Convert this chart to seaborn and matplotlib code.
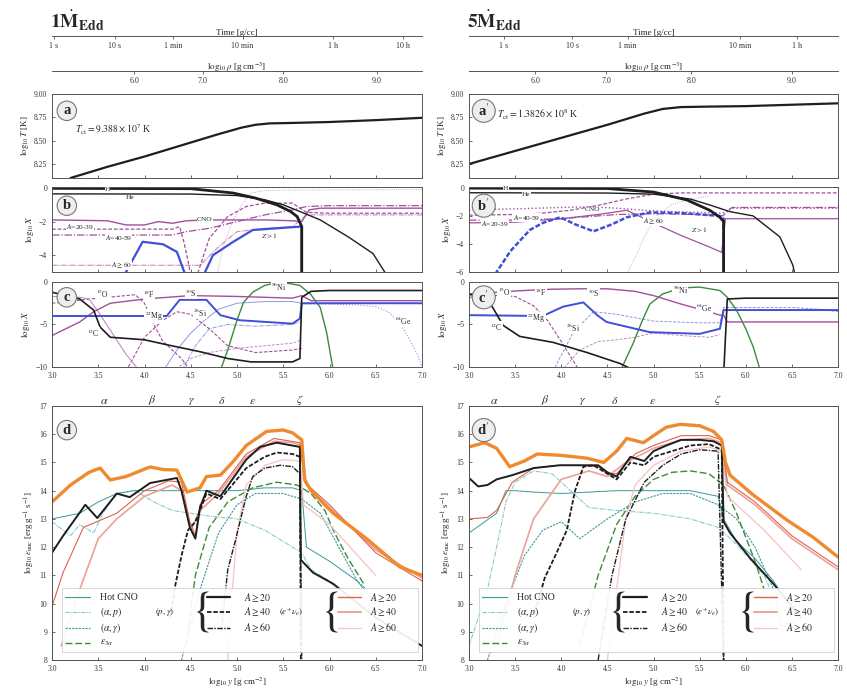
import numpy as np
import pandas as pd
import matplotlib
matplotlib.use("Agg")
import matplotlib.pyplot as plt
import seaborn as sns
from matplotlib.lines import Line2D
from matplotlib.patches import FancyBboxPatch

# ---------------- data ----------------
time_ticks_L = [3.02, 3.68, 4.31, 5.06, 6.04, 6.79]
time_labels_L = ["1 s", "10 s", "1 min", "10 min", "1 h", "10 h"]
time_ticks_R = [3.38, 4.12, 4.72, 5.94, 6.56]
time_labels_R = ["1 s", "10 s", "1 min", "10 min", "1 h"]
rho_ticks_L = [3.89, 4.63, 5.50, 6.51]
rho_ticks_R = [3.72, 4.49, 5.41, 6.50]
rho_labels = ["6.0", "7.0", "8.0", "9.0"]
greek_L = [3.57, 4.08, 4.51, 4.84, 5.17, 5.68]
greek_R = [3.27, 3.83, 4.23, 4.58, 4.99, 5.70]
greek_labels = [r"$\alpha$", r"$\beta$", r"$\gamma$", r"$\delta$", r"$\epsilon$", r"$\zeta$"]

# panel a
aL_x = [3.2, 3.6, 4.0, 4.4, 4.8, 5.05, 5.2, 5.35, 5.6, 6.0, 6.5, 7.0]
aL_T = [8.10, 8.22, 8.33, 8.45, 8.57, 8.64, 8.67, 8.685, 8.69, 8.70, 8.72, 8.745]
aR_x = [3.0, 3.5, 4.0, 4.5, 4.9, 5.1, 5.3, 5.6, 6.0, 6.5, 7.0]
aR_T = [8.25, 8.39, 8.53, 8.67, 8.79, 8.84, 8.86, 8.865, 8.87, 8.885, 8.90]

# panel b (left)
bL_H_x = [3.0, 4.5, 4.96, 5.2, 5.43, 5.58, 5.65, 5.70, 5.70]
bL_H_y = [-0.02, -0.04, -0.3, -0.6, -1.0, -1.4, -1.7, -2.3, -6.0]
bL_He_x = [3.0, 4.5, 5.0, 5.3, 5.5, 5.68, 5.9, 6.2, 6.47, 6.62]
bL_He_y = [-0.35, -0.36, -0.45, -0.7, -1.0, -1.4, -1.9, -2.9, -3.9, -5.2]
bL_CNO_x = [3.0, 3.6, 3.8, 4.0, 4.15, 4.3, 4.45, 4.7, 5.0, 5.3, 5.6, 5.7, 5.78, 5.9, 7.0]
bL_CNO_y = [-1.9, -1.95, -2.2, -2.2, -2.0, -2.1, -1.95, -1.9, -1.9, -1.9, -1.95, -2.0, -1.3, -1.2, -1.2]
bL_A20_x = [3.0, 4.3, 4.38, 4.43, 4.48, 4.52, 4.7, 4.9, 5.1, 5.3, 5.6, 5.75, 6.0, 7.0]
bL_A20_y = [-2.45, -2.45, -2.3, -3.3, -4.6, -6.0, -3.0, -1.7, -1.1, -0.9, -0.9, -1.45, -1.5, -1.5]
bL_A40_x = [3.0, 4.3, 4.45, 4.7, 5.0, 5.3, 5.6, 5.75, 6.0, 7.0]
bL_A40_y = [-2.8, -2.8, -2.6, -2.4, -2.0, -1.6, -1.3, -1.1, -1.05, -1.05]
bL_A60_x = [3.0, 4.3, 4.6, 4.8, 5.0, 5.3, 5.6, 5.75, 7.0]
bL_A60_y = [-4.6, -4.6, -4.6, -3.5, -2.6, -2.4, -2.3, -1.6, -1.6]
bL_Z_x = [3.7, 3.98, 4.2, 4.35, 4.43, 4.5, 4.57, 4.74, 4.96, 5.17, 5.68, 5.70, 5.70]
bL_Z_y = [-6.0, -3.2, -3.35, -3.8, -5.0, -6.0, -6.0, -4.0, -3.2, -2.5, -2.3, -2.3, -6.0]
bL_thin_x = [4.75, 4.85, 4.95, 5.05, 5.15, 5.3, 5.6, 7.0]
bL_thin_y = [-6.0, -3.5, -2.0, -1.0, -0.3, -0.15, -0.12, -0.1]

# panel b (right)
bR_H_x = [3.0, 4.5, 5.0, 5.36, 5.61, 5.72, 5.76, 5.76]
bR_H_y = [-0.02, -0.05, -0.3, -0.86, -1.6, -2.1, -2.4, -7.0]
bR_He_x = [3.0, 4.5, 5.0, 5.4, 5.6, 5.83, 6.08, 6.37, 6.51, 6.56]
bR_He_y = [-0.35, -0.37, -0.45, -0.8, -1.2, -1.7, -2.0, -3.5, -5.5, -7.0]
bR_CNO_x = [3.0, 3.5, 4.0, 4.3, 4.6, 4.9, 5.2, 5.5, 5.75, 5.85, 7.0]
bR_CNO_y = [-1.55, -1.5, -1.4, -1.35, -1.45, -1.6, -1.7, -1.75, -1.8, -1.45, -1.45]
bR_A20_x = [3.0, 3.5, 3.8, 4.1, 4.4, 4.7, 5.0, 5.3, 7.0]
bR_A20_y = [-1.95, -1.9, -1.8, -1.6, -1.25, -0.8, -0.45, -0.36, -0.36]
bR_A40_x = [3.0, 3.5, 4.0, 4.4, 4.6, 5.0, 5.5, 5.75, 5.85, 7.0]
bR_A40_y = [-2.3, -2.3, -2.2, -2.0, -1.9, -1.85, -1.9, -2.0, -1.4, -1.4]
bR_A60_x = [3.0, 3.5, 4.0, 4.4, 4.71, 5.0, 5.3, 5.6, 5.74, 5.78, 5.9, 7.0]
bR_A60_y = [-2.5, -2.45, -2.2, -1.9, -1.6, -2.5, -3.4, -4.2, -4.6, -2.2, -2.2, -2.2]
bR_Z_x = [3.2, 3.45, 3.66, 3.8, 3.99, 4.15, 4.35, 4.55, 4.71, 4.96, 5.3, 5.72, 5.76, 5.76]
bR_Z_y = [-7.0, -4.5, -3.0, -2.5, -2.1, -2.6, -3.1, -2.6, -2.1, -1.75, -1.8, -2.0, -2.2, -7.0]
bR_thin_x = [4.64, 4.8, 4.9, 5.03, 5.2, 5.4, 5.6]
bR_thin_y = [-7.0, -5.0, -3.5, -2.0, -1.2, -0.8, -0.6]

# panel c (left)
cL_C_x = [3.0, 3.3, 3.45, 3.52, 3.63, 4.0, 4.25, 4.6, 4.9, 5.15, 5.6, 5.68, 5.70, 5.8, 6.0, 7.0]
cL_C_y = [-1.2, -2.0, -3.3, -5.3, -6.5, -6.8, -7.4, -8.2, -9.0, -9.4, -9.4, -9.0, -1.8, -1.1, -1.0, -1.0]
cL_O_x = [3.0, 4.24, 4.38, 4.67, 4.82, 5.03, 5.6, 5.68, 5.70, 5.8, 7.0]
cL_O_y = [-4.0, -4.0, -2.1, -2.1, -3.9, -4.5, -4.9, -4.3, -2.5, -2.5, -2.5]
cL_P_x = [3.0, 3.3, 3.45, 3.63, 4.0, 4.5, 5.0, 5.6, 5.7, 5.8, 7.0]
cL_P_y = [-6.3, -4.7, -3.5, -2.5, -2.0, -1.6, -1.7, -1.9, -1.6, -2.2, -2.2]
cL_O15_x = [3.0, 3.3, 3.4, 3.5, 3.65, 3.8, 3.95]
cL_O15_y = [-1.7, -1.8, -2.0, -3.5, -6.0, -8.5, -10.5]
cL_F18_x = [3.0, 3.5, 3.9, 4.0, 4.1, 4.2, 4.4, 4.5]
cL_F18_y = [-2.5, -1.9, -1.5, -2.5, -5.0, -7.0, -9.0, -10.5]
cL_Na_x = [3.8, 4.0, 4.2, 4.35, 4.5, 4.7, 4.9, 5.2, 5.6, 5.7]
cL_Na_y = [-10.5, -6.5, -4.5, -3.5, -3.8, -5.5, -7.5, -8.3, -8.0, -7.8]
cL_Ni_x = [4.8, 4.9, 5.0, 5.07, 5.17, 5.3, 5.4, 5.55, 5.68, 5.8, 5.9, 5.97, 6.05]
cL_Ni_y = [-11.0, -8.0, -4.5, -2.4, -1.2, -0.4, -0.15, -0.15, -0.4, -1.5, -3.0, -6.0, -11.0]
cL_Ge_x = [5.7, 6.0, 6.3, 6.5, 6.65, 6.8, 6.95, 7.0]
cL_Ge_y = [-2.6, -2.6, -2.7, -2.9, -3.6, -5.5, -8.5, -10.0]
cL_B2_x = [4.2, 4.35, 4.5, 4.65, 4.8, 5.0, 5.3, 5.6, 5.7]
cL_B2_y = [-10.5, -8.0, -6.0, -4.5, -3.2, -2.5, -2.3, -2.3, -2.5]
cL_B3_x = [4.4, 4.55, 4.7, 4.9, 5.2, 5.6, 5.7]
cL_B3_y = [-10.5, -7.5, -5.5, -5.0, -5.2, -5.0, -4.6]
cL_P2_x = [4.3, 4.5, 4.7, 5.0, 5.3, 5.6, 5.7]
cL_P2_y = [-10.5, -9.0, -8.3, -7.8, -7.5, -7.2, -6.8]

# panel c (right)
cR_C_x = [3.0, 3.1, 3.23, 3.37, 3.55, 3.91, 4.28, 4.64, 4.9, 5.72, 5.76, 5.8, 6.0, 7.0]
cR_C_y = [-1.4, -1.8, -2.5, -5.1, -6.4, -7.1, -8.3, -9.6, -11.0, -11.0, -11.0, -2.0, -1.9, -1.9]
cR_O_x = [3.0, 3.8, 4.02, 4.24, 4.39, 4.49, 4.96, 5.5, 5.72, 5.76, 5.8, 7.0]
cR_O_y = [-3.9, -4.0, -2.9, -2.4, -3.9, -4.7, -5.9, -6.1, -5.5, -3.3, -3.3, -3.3]
cR_P_x = [3.0, 3.3, 3.6, 3.9, 4.2, 4.5, 4.8, 5.0, 5.3, 5.6, 5.72, 5.76, 5.8, 7.0]
cR_P_y = [-1.4, -1.2, -1.0, -0.85, -0.8, -0.8, -1.1, -1.6, -2.6, -3.5, -3.9, -3.9, -4.7, -4.7]
cR_F18_x = [3.0, 3.3, 3.5, 3.7, 3.85, 4.0, 4.2]
cR_F18_y = [-1.8, -1.6, -1.7, -2.8, -4.5, -7.0, -10.5]
cR_Ni_x = [4.64, 4.78, 4.88, 4.96, 5.1, 5.3, 5.5, 5.72, 5.8, 5.9, 6.0, 6.08, 6.16]
cR_Ni_y = [-10.5, -7.2, -4.5, -2.6, -1.4, -0.7, -0.6, -1.0, -1.8, -3.3, -5.5, -7.6, -10.5]
cR_B2_x = [3.91, 4.13, 4.35, 4.6, 5.0, 5.5, 5.72, 5.76, 6.5, 6.8, 7.0]
cR_B2_y = [-10.5, -5.9, -3.5, -3.8, -4.6, -4.8, -4.8, -3.0, -3.0, -3.2, -3.5]
cR_P2_x = [4.0, 4.2, 4.4, 4.6, 4.8, 5.0, 5.3, 5.6, 5.72]
cR_P2_y = [-10.5, -8.0, -7.0, -6.8, -6.5, -6.0, -6.3, -6.5, -6.2]

# panel d (left)
dL_tot_x = [3.0, 3.2, 3.4, 3.52, 3.63, 3.8, 4.06, 4.2, 4.35, 4.46, 4.6, 4.67, 4.82, 4.95, 5.1, 5.32,
            5.5, 5.6, 5.7, 5.73, 5.8, 6.04, 6.4, 6.76, 7.0]
dL_tot_y = [13.6, 14.2, 14.65, 14.8, 14.38, 14.5, 14.84, 14.75, 14.73, 13.95, 14.1, 14.5, 14.55, 15.0,
            15.6, 16.1, 16.15, 16.05, 15.8, 14.4, 14.0, 13.2, 12.3, 11.3, 11.0]
dL_pg20_x = [3.0, 3.12, 3.36, 3.49, 3.7, 3.84, 4.06, 4.35, 4.4, 4.49, 4.55, 4.6, 4.67, 4.82, 5.1, 5.25,
             5.43, 5.68, 5.69, 5.82, 6.04, 6.5, 7.0]
dL_pg20_y = [11.8, 12.4, 13.5, 13.03, 13.9, 13.77, 14.27, 14.45, 14.0, 12.7, 12.3, 13.4, 14.0, 13.8, 15.1,
             15.55, 15.7, 15.55, 11.55, 11.1, 10.7, 9.5, 8.5]
dL_pg40_x = [4.28, 4.33, 4.4, 4.47, 4.55, 4.6, 4.67, 4.82, 5.1, 5.3, 5.43, 5.6, 5.68, 5.69]
dL_pg40_y = [9.5, 10.6, 11.7, 12.6, 12.9, 13.3, 13.9, 13.7, 14.8, 15.2, 15.35, 15.3, 15.2, 8.0]
dL_pg60_x = [4.83, 4.9, 4.98, 5.1, 5.17, 5.3, 5.47, 5.6, 5.68, 5.70]
dL_pg60_y = [9.0, 11.2, 12.2, 13.8, 14.5, 14.8, 14.9, 14.85, 14.6, 8.0]
dL_ep20_x = [3.0, 3.12, 3.34, 3.52, 3.7, 4.0, 4.26, 4.4, 4.49, 4.55, 4.6, 4.8, 5.1, 5.4, 5.68, 5.73,
             6.0, 6.5, 7.0]
dL_ep20_y = [9.9, 11.1, 12.7, 12.95, 13.2, 14.0, 14.35, 14.3, 12.9, 12.4, 13.5, 14.0, 15.3, 15.85,
             15.7, 14.3, 13.5, 11.8, 10.8]
dL_ep40_x = [3.1, 3.3, 3.5, 3.7, 4.0, 4.3, 4.4, 4.5, 4.6, 4.8, 5.1, 5.4, 5.6, 5.7, 5.75, 6.0, 6.5, 7.0]
dL_ep40_y = [8.5, 10.5, 12.3, 13.0, 13.8, 14.2, 14.0, 12.6, 13.3, 13.9, 15.2, 15.75, 15.7, 15.6, 14.2,
             13.4, 11.9, 10.9]
dL_ep60_x = [4.9, 4.95, 5.0, 5.1, 5.3, 5.5, 5.68, 5.72, 6.0, 6.5]
dL_ep60_y = [8.0, 10.5, 12.5, 14.2, 14.9, 15.1, 15.05, 13.5, 12.8, 11.0]
dL_cno_x = [3.0, 3.3, 3.5, 3.7, 3.88, 4.5, 5.0, 5.3, 5.6, 5.7, 5.75, 6.0, 6.3, 6.5]
dL_cno_y = [13.0, 13.2, 13.6, 13.9, 14.0, 14.0, 14.0, 14.1, 14.1, 14.0, 12.0, 11.5, 10.8, 10.0]
dL_ap_x = [3.0, 3.2, 3.3, 3.45, 3.55, 3.7, 3.9, 4.1, 4.3, 4.5, 4.7, 5.0, 5.3, 5.5, 5.7, 5.8, 6.0, 6.2]
dL_ap_y = [12.9, 12.4, 12.8, 12.5, 13.2, 13.9, 14.0, 13.6, 13.3, 13.2, 13.1, 13.0, 12.6, 12.2, 11.8,
           11.2, 10.8, 10.0]
dL_ag_x = [4.4, 4.6, 4.8, 5.0, 5.2, 5.5, 5.7, 5.9, 6.1, 6.3, 6.6]
dL_ag_y = [8.0, 10.5, 12.5, 13.5, 13.9, 13.9, 13.7, 13.2, 12.0, 10.8, 9.9]
dL_3a_x = [4.45, 4.55, 4.7, 4.9, 5.17, 5.43, 5.65, 5.8, 5.95, 6.04, 6.2, 6.37]
dL_3a_y = [8.5, 11.0, 12.7, 13.6, 14.1, 14.3, 14.2, 13.9, 13.3, 12.6, 11.6, 10.7]

# panel d (right)
dR_tot_x = [3.0, 3.17, 3.3, 3.44, 3.6, 3.74, 4.0, 4.28, 4.46, 4.6, 4.71, 4.89, 5.0, 5.14, 5.29, 5.5,
            5.65, 5.74, 5.78, 5.83, 6.08, 6.45, 6.73, 7.0]
dR_tot_y = [15.55, 15.7, 15.5, 14.85, 15.05, 15.3, 15.25, 15.15, 15.0, 15.4, 15.85, 15.7, 15.95, 16.25,
            16.35, 16.3, 16.1, 15.8, 15.0, 14.55, 13.85, 12.95, 12.35, 11.65]
dR_pg20_x = [3.0, 3.1, 3.2, 3.3, 3.47, 3.7, 3.98, 4.2, 4.4, 4.5, 4.6, 4.75, 4.9, 5.0, 5.14, 5.3, 5.5,
             5.65, 5.74, 5.76, 5.83, 6.05, 6.3, 6.6]
dR_pg20_y = [14.45, 14.15, 14.2, 14.4, 14.55, 14.8, 14.9, 14.9, 14.9, 14.65, 14.5, 15.2, 15.05, 15.4,
             15.6, 15.8, 15.8, 15.75, 15.6, 12.9, 12.5, 11.6, 10.7, 9.5]
dR_pg40_x = [3.7, 3.82, 3.95, 4.06, 4.15, 4.24, 4.35, 4.5, 4.6, 4.75, 4.9, 5.0, 5.2, 5.4, 5.6, 5.74, 5.76]
dR_pg40_y = [9.5, 10.9, 11.8, 12.6, 14.0, 14.85, 14.9, 14.6, 14.4, 15.0, 14.9, 15.2, 15.4, 15.6, 15.65,
             15.45, 8.0]
dR_pg60_x = [4.4, 4.55, 4.7, 4.9, 5.1, 5.3, 5.5, 5.7, 5.76]
dR_pg60_y = [8.0, 11.0, 13.0, 14.3, 14.9, 15.3, 15.45, 15.4, 8.0]
dR_ep20_x = [3.0, 3.2, 3.3, 3.47, 3.7, 4.0, 4.2, 4.4, 4.5, 4.6, 4.8, 5.0, 5.3, 5.6, 5.74, 5.8, 6.1,
             6.5, 7.0]
dR_ep20_y = [13.0, 13.05, 13.3, 14.3, 14.8, 14.9, 14.9, 14.85, 14.6, 14.6, 15.3, 15.6, 15.95, 15.95,
             15.8, 14.3, 13.6, 12.4, 11.3]
dR_ep40_x = [3.3, 3.5, 3.7, 4.0, 4.3, 4.5, 4.7, 5.0, 5.3, 5.6, 5.74, 5.8, 6.1, 6.5, 7.0]
dR_ep40_y = [8.5, 11.0, 13.0, 14.4, 14.7, 14.5, 15.0, 15.5, 15.8, 15.85, 15.7, 14.2, 13.5, 12.3, 11.2]
dR_ep60_x = [4.5, 4.6, 4.7, 4.8, 5.0, 5.3, 5.6, 5.74, 5.8, 6.2, 6.6]
dR_ep60_y = [8.0, 10.5, 13.0, 14.2, 14.9, 15.4, 15.55, 15.4, 13.8, 12.6, 11.2]
dR_cno_x = [3.0, 3.3, 3.4, 3.5, 3.7, 4.0, 4.3, 4.6, 5.0, 5.4, 5.7, 5.76, 5.9, 6.1, 6.3, 6.5]
dR_cno_y = [12.5, 13.2, 14.0, 14.0, 13.95, 13.9, 13.95, 14.0, 14.0, 14.0, 13.8, 13.0, 12.2, 11.6, 10.8, 9.8]
dR_ap_x = [3.0, 3.2, 3.3, 3.4, 3.5, 3.7, 3.9, 4.1, 4.3, 4.6, 5.0, 5.4, 5.7, 5.9, 6.2, 6.4]
dR_ap_y = [8.5, 10.5, 12.0, 13.6, 14.3, 14.7, 14.6, 14.0, 13.4, 13.3, 13.2, 13.0, 12.7, 12.1, 11.0, 9.5]
dR_ag_x = [3.2, 3.4, 3.6, 3.8, 4.0, 4.2, 4.5, 4.8, 5.1, 5.4, 5.7, 5.9, 6.1, 6.3, 6.4]
dR_ag_y = [8.0, 10.0, 11.7, 12.6, 12.9, 12.3, 13.0, 13.6, 13.9, 13.9, 13.5, 13.0, 12.0, 10.5, 9.0]
dR_3a_x = [4.2, 4.4, 4.6, 4.8, 5.0, 5.2, 5.4, 5.6, 5.76, 5.9, 6.1, 6.2]
dR_3a_y = [8.5, 11.0, 12.8, 13.8, 14.4, 14.65, 14.7, 14.6, 14.2, 13.2, 11.5, 10.5]

# ---------------- style ----------------
sns.set_theme(style="ticks")
plt.rcParams.update({
    "font.family": ["Liberation Serif", "DejaVu Serif"],
    "mathtext.fontset": "stix",
    "axes.edgecolor": "#555555",
    "axes.linewidth": 0.7,
    "xtick.color": "#333333",
    "ytick.color": "#333333",
    "xtick.labelsize": 5.5,
    "ytick.labelsize": 5.5,
    "xtick.major.size": 2,
    "ytick.major.size": 2,
    "xtick.major.width": 0.5,
    "ytick.major.width": 0.5,
})

BLK = "#1e1e1e"; PUR = "#a24f9e"; PUR2 = "#c58ac3"; BLU = "#3f4fd6"; BLU2 = "#8c97e6"
GRN = "#3d8a3d"; TEAL = "#3b9999"; TEAL2 = "#86c9c9"; ORG = "#ef8a2e"; RED = "#dd6350"
PNK = "#eea098"; PNK2 = "#f5c8c8"

W, H = 847, 688
fig = plt.figure(figsize=(W / 100, H / 100), dpi=100)


def axes_px(x0, x1, ytop, ybot):
    return fig.add_axes([x0 / W, 1 - ybot / H, (x1 - x0) / W, (ybot - ytop) / H])


def draw(ax, x, y, color, lw=0.8, ls="-", alpha=1.0, z=2):
    df = pd.DataFrame({"x": x, "y": y})
    sns.lineplot(data=df, x="x", y="y", ax=ax, color=color, linewidth=lw, linestyle=ls,
                 alpha=alpha, sort=False, estimator=None, legend=False, zorder=z)
    ax.set_xlabel("")
    ax.set_ylabel("")


def circ(ax, s, fx, fy):
    ax.text(fx, fy, s, transform=ax.transAxes, ha="center", va="center", fontsize=10.5,
            fontweight="bold", zorder=10,
            bbox=dict(boxstyle="circle,pad=0.22", fc="#eeeeee", ec="#777777", lw=0.8))


def top_axis(x0, x1, yline, ticks, labels, title):
    ax = axes_px(x0, x1, yline - 0.01, yline)
    for s in ["left", "right", "top"]:
        ax.spines[s].set_visible(False)
    ax.set_xlim(3.0, 7.0)
    ax.set_yticks([])
    ax.set_xticks(ticks)
    ax.set_xticklabels(labels)
    ax.tick_params(axis="x", direction="out", length=2.5, pad=2, labelsize=5.8)
    ax.xaxis.set_label_position("top")
    ax.set_xlabel(title, fontsize=6.5, labelpad=1)
    ax.patch.set_alpha(0)
    return ax


def brace_legend(ax):
    box = FancyBboxPatch((0.027, 0.03), 0.963, 0.255, boxstyle="square,pad=0",
                         transform=ax.transAxes, fc="white", ec="#cccccc", lw=0.6, alpha=0.92,
                         zorder=20)
    ax.add_patch(box)
    rows = [0.248, 0.189, 0.126, 0.067]
    col1 = [("Hot CNO", TEAL, "-", 0.8), (r"$(\alpha,p)$", TEAL2, (0, (4, 1, 1, 1)), 0.8),
            (r"$(\alpha,\gamma)$", TEAL, (0, (2, 1)), 0.8),
            (r"$\epsilon_{3\alpha}$", GRN, (0, (5, 2)), 1.0)]
    for (lab, c, ls, lw), yy in zip(col1, rows):
        ax.add_line(Line2D([0.035, 0.103], [yy, yy], transform=ax.transAxes, color=c, ls=ls,
                           lw=lw, zorder=21))
        ax.text(0.13, yy, lab, transform=ax.transAxes, va="center", fontsize=7, zorder=21)
    pg = [(r"$A\geq20$", "-", 1.6), (r"$A\geq40$", (0, (2.5, 1)), 1.3),
          (r"$A\geq60$", (0, (4, 1, 1, 1)), 1.0)]
    ax.text(0.305, rows[1], r"$(p,\gamma)$", transform=ax.transAxes, va="center", ha="center",
            fontsize=6.5, zorder=21)
    ax.text(0.4, rows[1], r"$\{$", transform=ax.transAxes, va="center", ha="center",
            fontsize=34, zorder=21)
    for (lab, ls, lw), yy in zip(pg, rows[:3]):
        ax.add_line(Line2D([0.418, 0.482], [yy, yy], transform=ax.transAxes, color=BLK, ls=ls,
                           lw=lw, zorder=21))
        ax.text(0.52, yy, lab, transform=ax.transAxes, va="center", fontsize=7, zorder=21)
    ep = [(r"$A\geq20$", RED, 1.0), (r"$A\geq40$", PNK, 1.4), (r"$A\geq60$", PNK2, 1.0)]
    ax.text(0.645, rows[1], r"$(e^{+}\nu_{e})$", transform=ax.transAxes, va="center",
            ha="center", fontsize=6.5, zorder=21)
    ax.text(0.75, rows[1], r"$\{$", transform=ax.transAxes, va="center", ha="center",
            fontsize=34, zorder=21)
    for (lab, c, lw), yy in zip(ep, rows[:3]):
        ax.add_line(Line2D([0.772, 0.835], [yy, yy], transform=ax.transAxes, color=c, ls="-",
                           lw=lw, zorder=21))
        ax.text(0.86, yy, lab, transform=ax.transAxes, va="center", fontsize=7, zorder=21)


def column(x0, x1, side):
    L = side == "L"
    fig.text((x0 - 2) / W, 1 - 28 / H,
             (r"$\mathbf{1}\dot{\mathbf{M}}_{\mathbf{Edd}}$" if L else
              r"$\mathbf{5}\dot{\mathbf{M}}_{\mathbf{Edd}}$"), fontsize=14, va="baseline")
    top_axis(x0, x1, 36, time_ticks_L if L else time_ticks_R,
             time_labels_L if L else time_labels_R, "Time [g/cc]")
    top_axis(x0, x1, 71, rho_ticks_L if L else rho_ticks_R, rho_labels,
             r"$\log_{10}\rho$ [g cm$^{-3}$]")

    # panel a
    ax = axes_px(x0, x1, 94, 178)
    draw(ax, aL_x if L else aR_x, aL_T if L else aR_T, BLK, lw=1.6)
    ax.set_xlim(3, 7); ax.set_ylim(8.1, 9.0)
    ax.set_yticks([8.25, 8.5, 8.75, 9.0])
    ax.yaxis.set_major_formatter(matplotlib.ticker.FormatStrFormatter("%.2f"))
    ax.set_xticks(np.arange(3, 7.01, 0.5)); ax.set_xticklabels([])
    ax.tick_params(direction="in")
    ax.set_ylabel(r"$\log_{10}T$ [K]", fontsize=6.5, labelpad=2)
    circ(ax, "a" if L else "a$'$", 0.04, 0.8)
    if L:
        ax.text(3.25, 8.58, r"$T_{\rm ct}=9.388\times10^{7}$ K", fontsize=7)
    else:
        ax.text(3.3, 8.74, r"$T_{\rm ct}=1.3826\times10^{8}$ K", fontsize=7)

    # panel b
    ax = axes_px(x0, x1, 187, 272)
    if L:
        draw(ax, bL_thin_x, bL_thin_y, PUR2, lw=0.6, ls=":")
        draw(ax, bL_A60_x, bL_A60_y, PUR2, lw=0.8, ls=(0, (5, 1, 1, 1)))
        draw(ax, bL_A40_x, bL_A40_y, PUR, lw=0.9, ls=(0, (6, 1.5, 1, 1.5)))
        draw(ax, bL_A20_x, bL_A20_y, PUR, lw=0.9, ls=(0, (3, 1.5)))
        draw(ax, bL_CNO_x, bL_CNO_y, PUR, lw=1.0)
        draw(ax, bL_Z_x, bL_Z_y, BLU, lw=1.6)
        draw(ax, bL_He_x, bL_He_y, BLK, lw=1.0)
        draw(ax, bL_H_x, bL_H_y, BLK, lw=2.0)
        ax.set_ylim(-5.0, 0.06)
        ax.set_yticks([0, -2, -4])
        lab = [("H", 3.6, -0.08), ("He", 3.84, -0.55), ("CNO", 4.65, -1.9),
               (r"$A$=20-39", 3.3, -2.3), (r"$A$=40-59", 3.72, -2.95),
               (r"$A\geq60$", 3.75, -4.6), (r"$Z>1$", 5.35, -2.85)]
    else:
        draw(ax, bR_thin_x, bR_thin_y, PUR2, lw=0.6, ls=":")
        draw(ax, bR_A60_x, bR_A60_y, PUR, lw=0.9)
        draw(ax, bR_A40_x, bR_A40_y, PUR, lw=0.9, ls=(0, (6, 1.5, 1, 1.5)))
        draw(ax, bR_A20_x, bR_A20_y, PUR, lw=0.9, ls=(0, (3, 1.5)))
        draw(ax, bR_CNO_x, bR_CNO_y, PUR, lw=1.0, ls=":")
        draw(ax, bR_Z_x, bR_Z_y, BLU, lw=1.8, ls=(0, (2, 0.8)))
        draw(ax, bR_He_x, bR_He_y, BLK, lw=1.0)
        draw(ax, bR_H_x, bR_H_y, BLK, lw=2.0)
        ax.set_ylim(-6.0, 0.06)
        ax.set_yticks([0, -2, -4, -6])
        lab = [("H", 3.4, -0.08), ("He", 3.62, -0.5), ("CNO", 4.34, -1.55),
               (r"$A$=20-39", 3.28, -2.55), (r"$A$=40-59", 3.62, -2.1),
               (r"$A\geq60$", 5.0, -2.35), (r"$Z>1$", 5.5, -3.0)]
    for s, xx, yy in lab:
        ax.text(xx, yy, s, fontsize=5.3, ha="center", va="center", zorder=8,
                bbox=dict(boxstyle="square,pad=0.03", fc="white", ec="none"))
    ax.set_xlim(3, 7)
    ax.set_xticks(np.arange(3, 7.01, 0.5)); ax.set_xticklabels([])
    ax.tick_params(direction="in")
    ax.set_ylabel(r"$\log_{10}X$", fontsize=6.5, labelpad=2)
    circ(ax, "b" if L else "b$'$", 0.04, 0.78)

    # panel c
    ax = axes_px(x0, x1, 282, 367)
    if L:
        draw(ax, cL_P2_x, cL_P2_y, PUR2, lw=0.7, ls=(0, (3, 1.5)))
        draw(ax, cL_B3_x, cL_B3_y, BLU2, lw=0.7, ls=(0, (4, 1, 1, 1)))
        draw(ax, cL_B2_x, cL_B2_y, BLU2, lw=0.7)
        draw(ax, cL_Na_x, cL_Na_y, PUR, lw=0.8, ls=(0, (3, 1.5)))
        draw(ax, cL_F18_x, cL_F18_y, PUR, lw=0.8, ls=(0, (3, 1.5)))
        draw(ax, cL_O15_x, cL_O15_y, PUR2, lw=0.8)
        draw(ax, cL_Ge_x, cL_Ge_y, BLU2, lw=0.8, ls=":")
        draw(ax, cL_Ni_x, cL_Ni_y, GRN, lw=1.0)
        draw(ax, cL_P_x, cL_P_y, PUR, lw=1.0)
        draw(ax, cL_O_x, cL_O_y, BLU, lw=1.4)
        draw(ax, cL_C_x, cL_C_y, BLK, lw=1.2)
        lab = [(r"$^{15}$O", 3.55, -1.4), (r"$^{18}$F", 4.05, -1.4), (r"$^{30}$S", 4.5, -1.3),
               (r"$^{22}$Mg", 4.1, -4.0), (r"$^{26}$Si", 4.6, -3.6), (r"$^{56}$Ni", 5.45, -0.6),
               (r"$^{12}$C", 3.45, -6.0), (r"$^{64}$Ge", 6.8, -4.6)]
    else:
        draw(ax, cR_P2_x, cR_P2_y, PUR2, lw=0.7, ls=(0, (3, 1.5)))
        draw(ax, cR_B2_x, cR_B2_y, BLU2, lw=0.7, ls=(0, (3, 1.5)))
        draw(ax, cR_F18_x, cR_F18_y, PUR, lw=0.8, ls=(0, (3, 1.5)))
        draw(ax, cR_Ni_x, cR_Ni_y, GRN, lw=1.0)
        draw(ax, cR_P_x, cR_P_y, PUR, lw=1.0)
        draw(ax, cR_O_x, cR_O_y, BLU, lw=1.4)
        draw(ax, cR_C_x, cR_C_y, BLK, lw=1.2)
        lab = [(r"$^{15}$O", 3.38, -1.2), (r"$^{18}$F", 3.78, -1.2), (r"$^{30}$S", 4.35, -1.3),
               (r"$^{22}$Mg", 3.73, -4.3), (r"$^{26}$Si", 4.13, -5.4), (r"$^{56}$Ni", 5.29, -0.9),
               (r"$^{12}$C", 3.3, -5.3), (r"$^{64}$Ge", 5.55, -3.0)]
    for s, xx, yy in lab:
        ax.text(xx, yy, s, fontsize=5.5, ha="center", va="center", zorder=8,
                bbox=dict(boxstyle="square,pad=0.03", fc="white", ec="none"))
    ax.set_xlim(3, 7); ax.set_ylim(-10, 0)
    ax.set_yticks([0, -5, -10])
    ax.set_xticks(np.arange(3, 7.01, 0.5))
    ax.xaxis.set_major_formatter(matplotlib.ticker.FormatStrFormatter("%.1f"))
    ax.tick_params(direction="in")
    ax.set_ylabel(r"$\log_{10}X$", fontsize=6.5, labelpad=2)
    circ(ax, "c" if L else "c$'$", 0.04, 0.82)

    # panel d
    ax = axes_px(x0, x1, 406, 660)
    s = "L" if L else "R"
    g = globals()
    draw(ax, g[f"d{s}_ap_x"], g[f"d{s}_ap_y"], TEAL2, lw=0.8, ls=(0, (4, 1, 1, 1)))
    draw(ax, g[f"d{s}_cno_x"], g[f"d{s}_cno_y"], TEAL, lw=0.7)
    draw(ax, g[f"d{s}_ag_x"], g[f"d{s}_ag_y"], TEAL, lw=0.8, ls=(0, (2, 1)))
    draw(ax, g[f"d{s}_3a_x"], g[f"d{s}_3a_y"], GRN, lw=1.0, ls=(0, (5, 2)))
    draw(ax, g[f"d{s}_ep60_x"], g[f"d{s}_ep60_y"], PNK2, lw=1.0)
    draw(ax, g[f"d{s}_ep40_x"], g[f"d{s}_ep40_y"], PNK, lw=1.2)
    draw(ax, g[f"d{s}_ep20_x"], g[f"d{s}_ep20_y"], RED, lw=0.8)
    draw(ax, g[f"d{s}_pg60_x"], g[f"d{s}_pg60_y"], BLK, lw=1.0, ls=(0, (4, 1, 1, 1)))
    draw(ax, g[f"d{s}_pg40_x"], g[f"d{s}_pg40_y"], BLK, lw=1.3, ls=(0, (2.5, 1)))
    draw(ax, g[f"d{s}_pg20_x"], g[f"d{s}_pg20_y"], BLK, lw=1.4)
    draw(ax, g[f"d{s}_tot_x"], g[f"d{s}_tot_y"], ORG, lw=2.4)
    ax.set_xlim(3, 7); ax.set_ylim(8, 17)
    ax.set_yticks(np.arange(8, 17.1, 1))
    ax.set_xticks(np.arange(3, 7.01, 0.5))
    ax.xaxis.set_major_formatter(matplotlib.ticker.FormatStrFormatter("%.1f"))
    ax.tick_params(direction="in")
    ax.set_ylabel(r"$\log_{10}\epsilon_{\rm nuc}$ [erg g$^{-1}$ s$^{-1}$]", fontsize=6.5,
                  labelpad=2)
    ax.set_xlabel(r"$\log_{10}y$ [g cm$^{-2}$]", fontsize=6.5, labelpad=2)
    sec = ax.twiny()
    sec.set_xlim(3, 7)
    sec.set_xticks(greek_L if L else greek_R)
    sec.set_xticklabels(greek_labels, fontsize=8.5)
    sec.tick_params(axis="x", length=0, pad=-1)
    circ(ax, "d" if L else "d$'$", 0.04, 0.905)
    brace_legend(ax)


column(52, 422, "L")
column(469, 838, "R")

fig.savefig("out.png", dpi=100)
